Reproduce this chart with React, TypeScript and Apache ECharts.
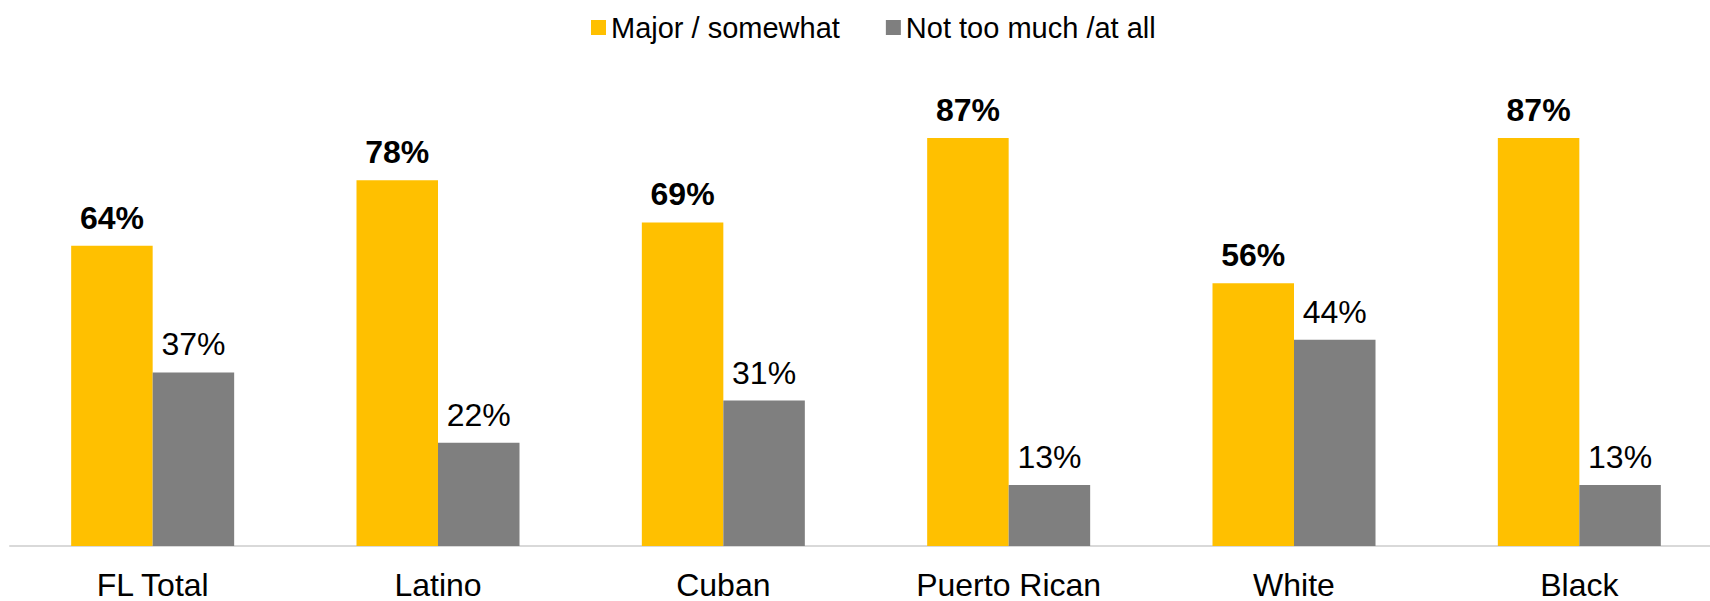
import React, { useEffect, useRef } from "react";
import * as echarts from "echarts";

const categories = ["FL Total", "Latino", "Cuban", "Puerto Rican", "White", "Black"];
const majorSomewhat = [64, 78, 69, 87, 56, 87];
const notTooMuch = [37, 22, 31, 13, 44, 13];
const seriesNames = ["Major / somewhat", "Not too much /at all"];

const FONT = "'Liberation Sans', Arial, sans-serif";

export default function App() {
  const ref = useRef<HTMLDivElement>(null);
  useEffect(() => {
    if (!ref.current) return;
    const chart = echarts.init(ref.current, undefined, { renderer: "svg" });
    chart.setOption({
      animation: false,
      textStyle: { fontFamily: FONT },
      legend: {
        left: 586,
        top: 8,
        itemWidth: 15,
        itemHeight: 15,
        itemGap: 46,
        icon: "rect",
        textStyle: { fontSize: 29, color: "#000", fontFamily: FONT },
        data: seriesNames,
      },
      grid: { left: 10, right: 0, top: 77, bottom: 52, containLabel: false },
      xAxis: {
        type: "category",
        data: categories,
        axisLine: { show: true, lineStyle: { color: "#d9d9d9", width: 2 } },
        axisTick: { show: false },
        axisLabel: { fontSize: 32, color: "#000", margin: 23, fontFamily: FONT, interval: 0 },
      },
      yAxis: {
        type: "value",
        min: 0,
        max: 100,
        show: false,
        splitLine: { show: false },
      },
      series: [
        {
          name: seriesNames[0],
          type: "bar",
          data: majorSomewhat,
          barWidth: 81.5,
          barGap: "0%",
          itemStyle: { color: "#FFC000" },
          label: {
            show: true,
            position: "top",
            distance: 12,
            formatter: "{c}%",
            fontSize: 32,
            fontWeight: "bold",
            color: "#000",
            fontFamily: FONT,
          },
        },
        {
          name: seriesNames[1],
          type: "bar",
          data: notTooMuch,
          barWidth: 81.5,
          barGap: "0%",
          itemStyle: { color: "#7F7F7F" },
          label: {
            show: true,
            position: "top",
            distance: 12,
            formatter: "{c}%",
            fontSize: 32,
            color: "#000",
            fontFamily: FONT,
          },
        },
      ],
    });
    return () => chart.dispose();
  }, []);
  return (
    <div
      style={{
        position: "fixed",
        left: 0,
        top: 0,
        width: 1710,
        height: 601,
        overflow: "hidden",
        background: "#fff",
      }}
    >
      <div ref={ref} style={{ width: 1722, height: 601 }} />
    </div>
  );
}
